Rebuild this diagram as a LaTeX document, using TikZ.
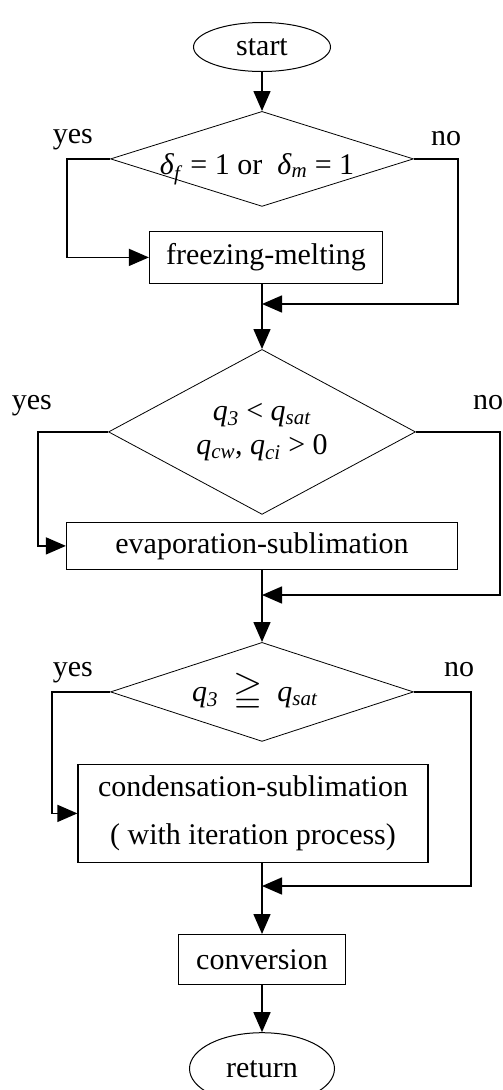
\documentclass[tikz,border=0pt]{standalone}
\usepackage{amssymb}
\usepackage{fontspec}
\setmainfont{Liberation Serif}
\usetikzlibrary{shapes,arrows.meta,positioning,calc}

\newcommand{\qq}[1]{\textit{q}\textsubscript{\textit{#1}}}

\begin{document}
\begin{tikzpicture}[x=1pt, y=-1pt, node distance=25pt,
  every node/.style={font=\fontsize{30}{48}\selectfont},
  terminal/.style={draw, ellipse, line width=1pt, minimum width=137pt, minimum height=49pt, inner sep=0pt},
  decision/.style={draw, diamond, line width=0.8pt, minimum width=303pt, minimum height=95pt, inner sep=0pt},
  process/.style={draw, rectangle, line width=1.2pt, inner sep=0pt},
  flow/.style={line width=1.5pt, -{Triangle[length=20pt,width=17pt]}},
  link/.style={line width=1.5pt},
  lbl/.style={inner sep=0pt}]
\useasboundingbox (0,0) rectangle (503,1090);
\clip (0,0) rectangle (503,1090);

% nodes
\node[terminal] (start) at (262,47) {start};
\node[decision, below=39pt of start] (d1) {};
\node[process, below=24pt of d1, xshift=4pt, minimum width=233pt, minimum height=52pt] (fm) {freezing-melting};
\node[decision, below=65pt of fm, xshift=-4pt, minimum width=307pt, minimum height=165pt] (d2) {};
\node[process, below=7pt of d2, minimum width=391pt, minimum height=47pt] (evap) {evaporation-sublimation};
\node[decision, below=72pt of evap, minimum height=99pt] (d3) {};
\node[process, below=22pt of d3, xshift=-9pt, minimum width=350pt, minimum height=98pt, align=center] (cond) {condensation-sublimation\\( with iteration process)};
\node[process, below=71pt of cond, xshift=9pt, minimum width=167pt, minimum height=50pt] (conv) {conversion};
\node[terminal, below=47pt of conv, minimum width=145pt, minimum height=72pt] (ret) {return};

% conditions
\node[lbl] at ($(d1.center)+(-5,10)$) {\textit{δ}\textsubscript{\textit{f}} = 1 or \ \textit{δ}\textsubscript{\textit{m}} = 1};
\node[lbl, align=center, font=\fontsize{30}{34}\selectfont] at (d2.center) {\qq{3} < \qq{sat}\\\qq{cw}, \qq{ci} > 0};
\node[lbl] at ($(d3.center)+(-7,0)$) {\qq{3} \ \scalebox{1.25}{$\geqq$} \ \qq{sat}};

% junctions
\coordinate (j1) at ($(d2.north |- fm.south)+(0,20)$);
\coordinate (j2) at ($(evap.south)+(0,25)$);
\coordinate (j3) at ($(conv.north)+(0,-48)$);

% yes / no
\node[lbl, anchor=base east] at ($(d1.west)+(-17,-15)$) {yes};
\node[lbl, anchor=base west] at ($(d1.east)+(17,-13)$) {no};
\node[lbl, anchor=base east] at ($(d2.west)+(-56,-22)$) {yes};
\node[lbl, anchor=base west] at ($(d2.east)+(57,-22)$) {no};
\node[lbl, anchor=base east] at ($(d3.west)+(-17,-15)$) {yes};
\node[lbl, anchor=base west] at ($(d3.east)+(30,-15)$) {no};

% connectors
\draw[flow] (start) -- (d1);
\draw[flow] (d1.west) -- ++(-43,0) |- (fm.west);
\draw[flow] (d1.east) -- ++(44,0) |- (j1);
\draw[flow] (fm.south -| d2.north) -- (d2.north);
\draw[flow] (d2.west) -- ++(-70,0) |- (evap.west);
\draw[flow] (d2.east) -- ++(84,0) |- (j2);
\draw[link] (evap.south) -- (j2);
\draw[flow] (j2) -- (d3.north);
\draw[flow] (d3.west) -- ++(-58,0) |- (cond.west);
\draw[flow] (d3.east) -- ++(57,0) |- (j3);
\draw[flow] (cond.south -| conv.north) -- (conv.north);
\draw[flow] (conv) -- (ret);
\end{tikzpicture}
\end{document}
